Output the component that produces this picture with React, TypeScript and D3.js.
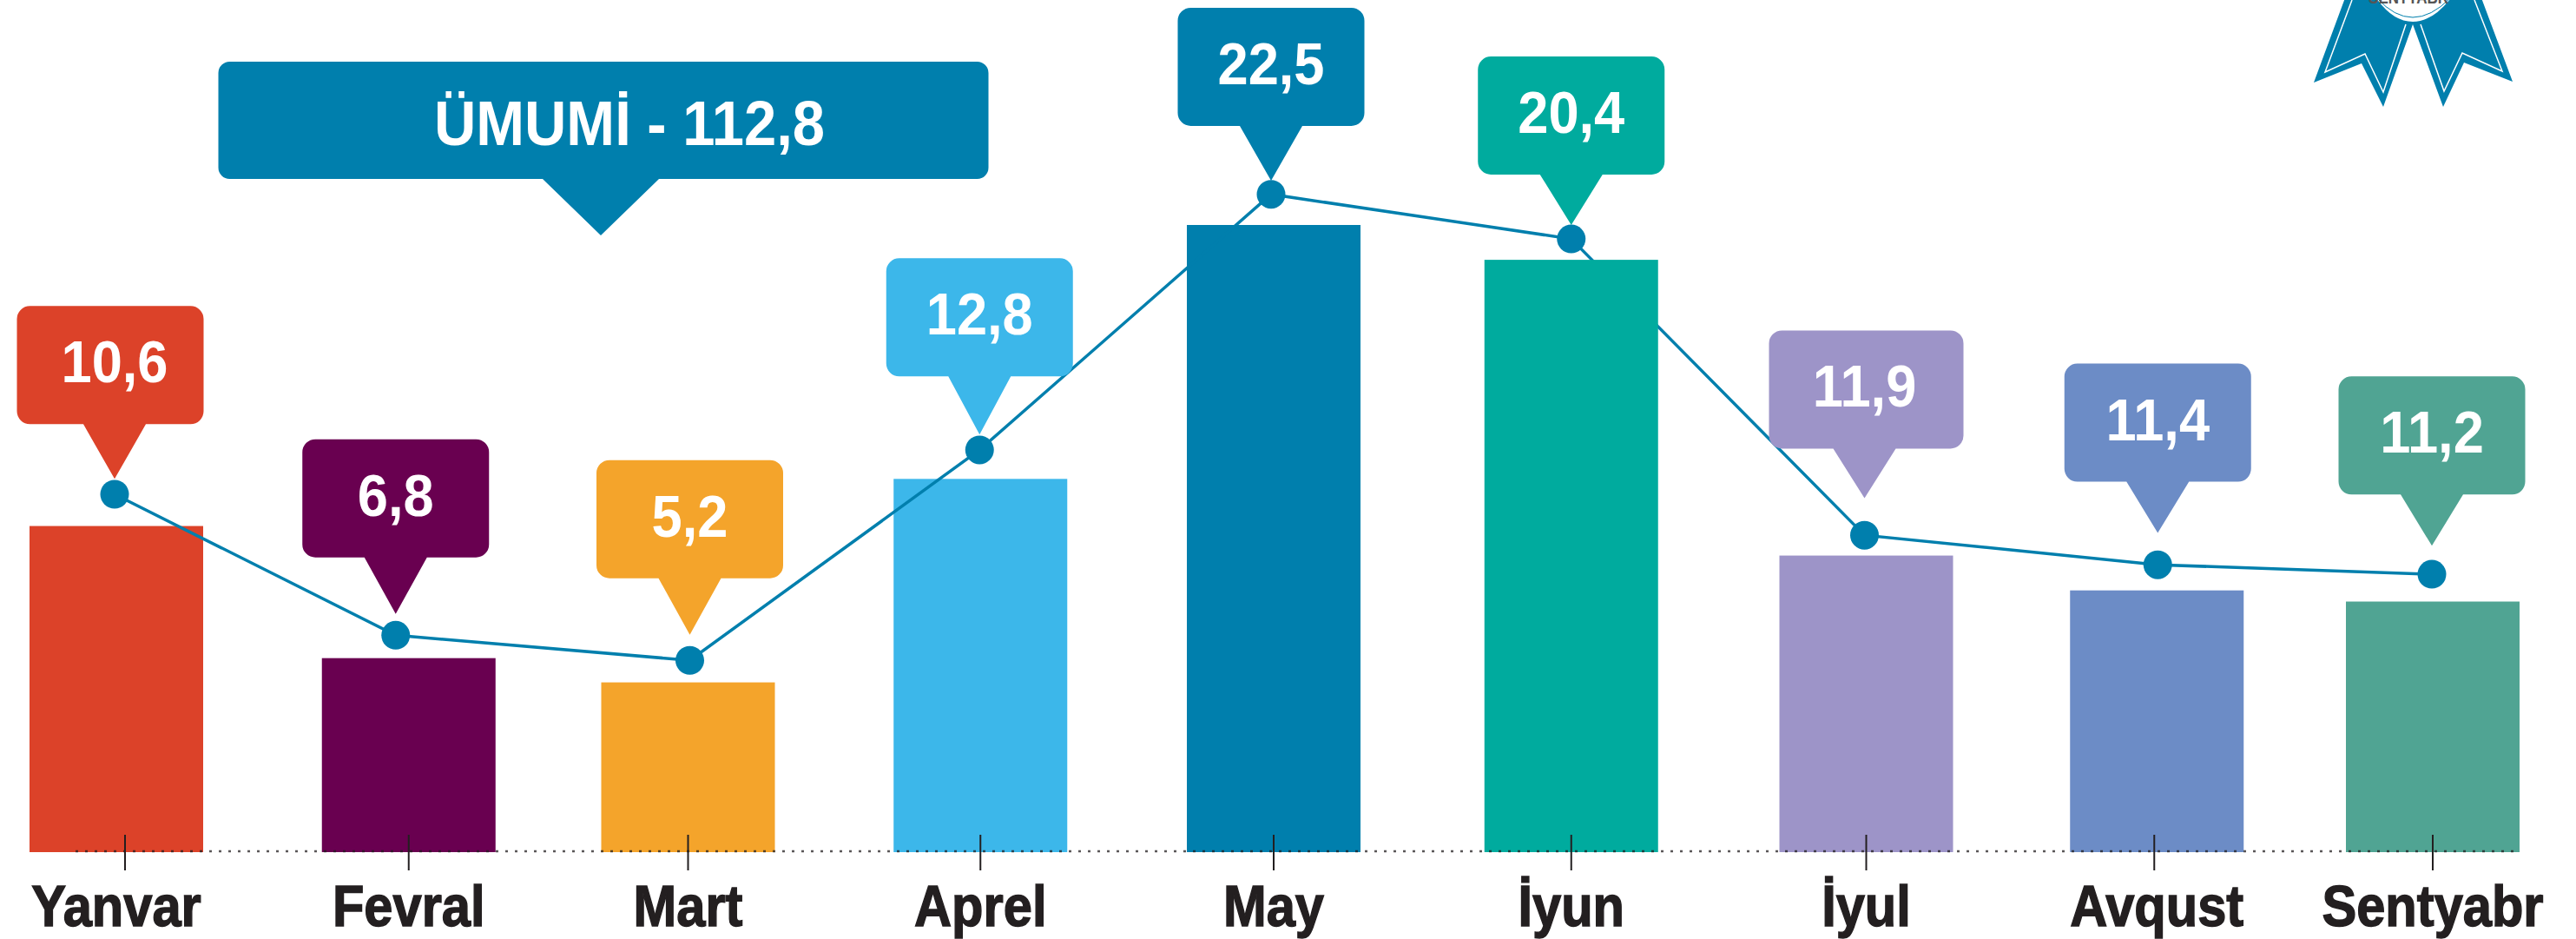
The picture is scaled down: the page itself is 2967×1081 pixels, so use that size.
import React from "react";
import * as d3 from "d3";

const months = ["Yanvar", "Fevral", "Mart", "Aprel", "May", "İyun", "İyul", "Avqust", "Sentyabr"];
const labels = ["10,6", "6,8", "5,2", "12,8", "22,5", "20,4", "11,9", "11,4", "11,2"];
const colors = ["#DC4229", "#690050", "#F4A42B", "#3CB7EA", "#007FAD", "#00AB9E", "#9D94C8", "#6C8CC6", "#50A493"];
// the source graphic does not draw to scale, so these are the levels as drawn
const barLevels = [11.7, 6.96, 6.09, 13.39, 22.5, 21.25, 10.64, 9.39, 8.99];
const lineLevels = [12.84, 7.78, 6.88, 14.43, 23.6, 22.0, 11.37, 10.31, 9.97];
const tipLevels = [13.39, 8.55, 7.8, 14.98, 24.09, 22.5, 12.7, 11.45, 10.99];
const totalLabel = "ÜMUMİ - 112,8";

// months are not evenly spaced in the source
const xNudge = [-14, -9, -19, -14, -8, 3, 11, 14, 0];
const dotNudge = [-2, -15, 2, -1, -3, 0, -2, 1, -1];
const tickNudge = [10, 0, 0, 0, 0, 0, 0, -3, 0];
const boxNudge = [-5, 0, 0, 0, 0, 0, 2, 0, 0];
const boxWidths = [215, 215, 215, 215, 215, 215, 224, 215, 215];
const pointers = [63, 65, 65, 67, 63, 58, 57, 59, 59];

const width = 2967;
const height = 1081;
const baseY = 981;
const blue = "#007FAD";
const ink = "#231F20";
const fontStack = "'Liberation Sans', Arial, sans-serif";

const x = d3.scalePoint<string>().domain(months).range([148, 2802]);
const y = d3.scaleLinear().domain([0, 22.5]).range([baseY, 259]);

const center = (i: number) => (x(months[i]) as number) + xNudge[i];
const dotX = (i: number) => center(i) + dotNudge[i];

const linePath = d3
  .line<number>()
  .x((_, i) => dotX(i))
  .y((d) => y(d));

// rounded box with a pointer running down to the tip
function calloutPath(cx: number, tipX: number, tipY: number, w: number, h: number, tipH: number, tipW: number, r: number) {
  const bottom = tipY - tipH;
  const top = bottom - h;
  const left = cx - w / 2;
  const right = cx + w / 2;
  const p = d3.path();
  p.moveTo(left + r, top);
  p.lineTo(right - r, top);
  p.arcTo(right, top, right, top + r, r);
  p.lineTo(right, bottom - r);
  p.arcTo(right, bottom, right - r, bottom, r);
  p.lineTo(tipX + tipW / 2, bottom);
  p.lineTo(tipX, tipY);
  p.lineTo(tipX - tipW / 2, bottom);
  p.lineTo(left + r, bottom);
  p.arcTo(left, bottom, left, bottom - r, r);
  p.lineTo(left, top + r);
  p.arcTo(left, top, left + r, top, r);
  p.closePath();
  return p.toString();
}

// no condensed face is installed, so the text is squeezed sideways
const Squeezed = ({ tx, ty, k, size, fill, weight, children }: any) => (
  <text
    transform={`translate(${tx},${ty}) scale(${k},1)`}
    textAnchor="middle"
    fontFamily={fontStack}
    fontWeight={700}
    fontSize={size}
    fill={fill}
    stroke={fill}
    strokeWidth={weight}
  >
    {children}
  </text>
);

const Rosette = () => (
  <g>
    <path d="M2665,95 L2702,-5 L2857,-5 L2894,94 L2838,72 L2814,123 L2779,28 L2745,123 L2720,73 Z" fill={blue} />
    <path d="M2709,0 L2678,83 L2724,62 L2745,106 L2771,28" fill="none" stroke="#fff" strokeWidth={1.5} />
    <path d="M2850,0 L2882,82 L2836,61 L2815,105 L2788,28" fill="none" stroke="#fff" strokeWidth={1.5} />
    <path d="M2735,-5 Q2755,25 2779,25 Q2803,25 2825,-5 Z" fill="#fff" />
    <path d="M2738,-2 Q2758,20 2779,20 Q2800,20 2822,-2" fill="none" stroke={blue} strokeWidth={1} />
    <Squeezed tx={2774} ty={4} k={0.85} size={20} fill="#555" weight={0}>
      SENTYABR
    </Squeezed>
  </g>
);

export default function App() {
  return (
    <svg width={width} height={height} style={{ position: "absolute", left: 0, top: 0, background: "#fff" }}>
      {months.map((m, i) =>
        i === 5 ? null : (
          <rect key={m} x={center(i) - 100} width={200} y={y(barLevels[i])} height={baseY - y(barLevels[i])} fill={colors[i]} />
        )
      )}

      <path d={linePath(lineLevels) as string} fill="none" stroke={blue} strokeWidth={3.5} />

      <rect x={center(5) - 100} width={200} y={y(barLevels[5])} height={baseY - y(barLevels[5])} fill={colors[5]} />

      <line x1={87} x2={2900} y1={baseY - 1} y2={baseY - 1} stroke={ink} strokeOpacity={0.75} strokeWidth={2.5} strokeDasharray="3 8" />

      {lineLevels.map((d, i) => (
        <circle key={months[i]} cx={dotX(i)} cy={y(d)} r={16.5} fill={blue} />
      ))}

      {months.map((m, i) => (
        <g key={m}>
          <path
            d={calloutPath(dotX(i) + boxNudge[i], dotX(i), y(tipLevels[i]), boxWidths[i], 136, pointers[i], 72, 15)}
            fill={colors[i]}
          />
          <Squeezed tx={dotX(i)} ty={y(tipLevels[i]) - pointers[i] - 48} k={0.93} size={68} fill="#fff" weight={0}>
            {labels[i]}
          </Squeezed>
        </g>
      ))}

      <path d={calloutPath(695, 692, 271, 887, 135, 65, 134, 13)} fill={blue} />
      <Squeezed tx={725} ty={167} k={0.93} size={72} fill="#fff" weight={0}>
        {totalLabel}
      </Squeezed>

      {months.map((m, i) => (
        <g key={m}>
          <line
            x1={center(i) + tickNudge[i]}
            x2={center(i) + tickNudge[i]}
            y1={961}
            y2={1002}
            stroke={ink}
            strokeWidth={2}
          />
          <Squeezed tx={center(i)} ty={1066} k={0.89} size={67} fill={ink} weight={1.5}>
            {m}
          </Squeezed>
        </g>
      ))}

      <Rosette />
    </svg>
  );
}
